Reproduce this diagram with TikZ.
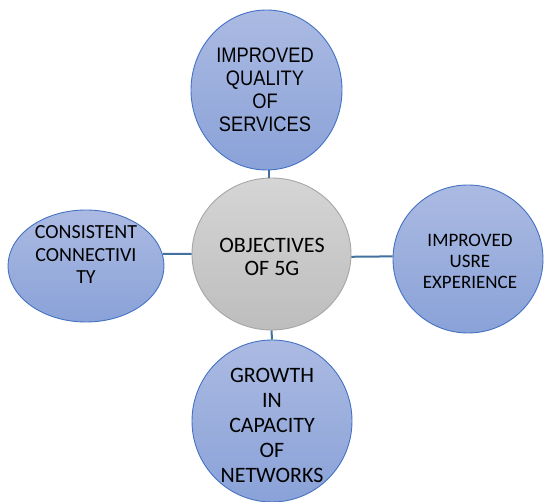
\documentclass[tikz,border=0pt]{standalone}
\usepackage{fontspec}
\setmainfont{Carlito}
\newfontfamily\arialf[FakeStretch=0.87]{Liberation Sans}
\usetikzlibrary{shapes.geometric}
\definecolor{bluetop}{HTML}{ABBAE2}
\definecolor{bluebot}{HTML}{8AA2D8}
\definecolor{blueedge}{HTML}{4472C4}
\definecolor{graytop}{HTML}{D5D5D5}
\definecolor{graybot}{HTML}{BDBDBD}
\definecolor{grayedge}{HTML}{A6A6A6}
\definecolor{linkcol}{HTML}{41719C}
\tikzset{
  bluebubble/.style={ellipse, draw=blueedge, line width=0.9pt, top color=bluetop, bottom color=bluebot, inner sep=0pt},
  graybubble/.style={ellipse, draw=grayedge, line width=0.9pt, top color=graytop, bottom color=graybot, inner sep=0pt},
  link/.style={draw=linkcol, line width=2pt},
  lbl/.style={align=center, inner sep=0pt, text=black}
}
\begin{document}
\begin{tikzpicture}[x=1pt,y=-1pt]
\useasboundingbox (0,0) rectangle (544,502);
\fill[white] (0,0) rectangle (544,502);
% bubbles
\node[bluebubble, minimum width=151pt, minimum height=160pt] (top) at (266.5,90) {};
\node[bluebubble, minimum width=156pt, minimum height=112pt] (left) at (86,266) {};
\node[graybubble, minimum width=159pt, minimum height=152pt] (center) at (271.5,254) {};
\node[bluebubble, minimum width=150pt, minimum height=148pt] (right) at (468,259) {};
\node[bluebubble, minimum width=160pt, minimum height=162pt] (bottom) at (272,421) {};
% connectors
\draw[link] (top.-88) -- (top.-88 |- center.north);
\draw[link] (left.9) -- (center.180);
\draw[link] (center.-2) -- (right.178.5);
\draw[link] (center.south) -- (bottom.north);
% texts
\node[lbl, font=\arialf\fontsize{21}{23}\selectfont] (ttop) at (265,90) {IMPROVED\\QUALITY\\OF\\SERVICES};
\node[lbl, font=\fontsize{20}{22.5}\selectfont] (tleft) at (86,255) {CONSISTENT\\CONNECTIVI\\TY};
\node[lbl, font=\fontsize{22}{23.5}\selectfont] (tcenter) at (272,257) {OBJECTIVES\\OF 5G};
\node[lbl, font=\fontsize{19}{21}\selectfont] (tright) at (470,261) {IMPROVED\\USRE\\EXPERIENCE};
\node[lbl, font=\fontsize{22}{25}\selectfont] (tbottom) at (272,425) {GROWTH\\IN\\CAPACITY\\OF\\NETWORKS};
\end{tikzpicture}
\end{document}
